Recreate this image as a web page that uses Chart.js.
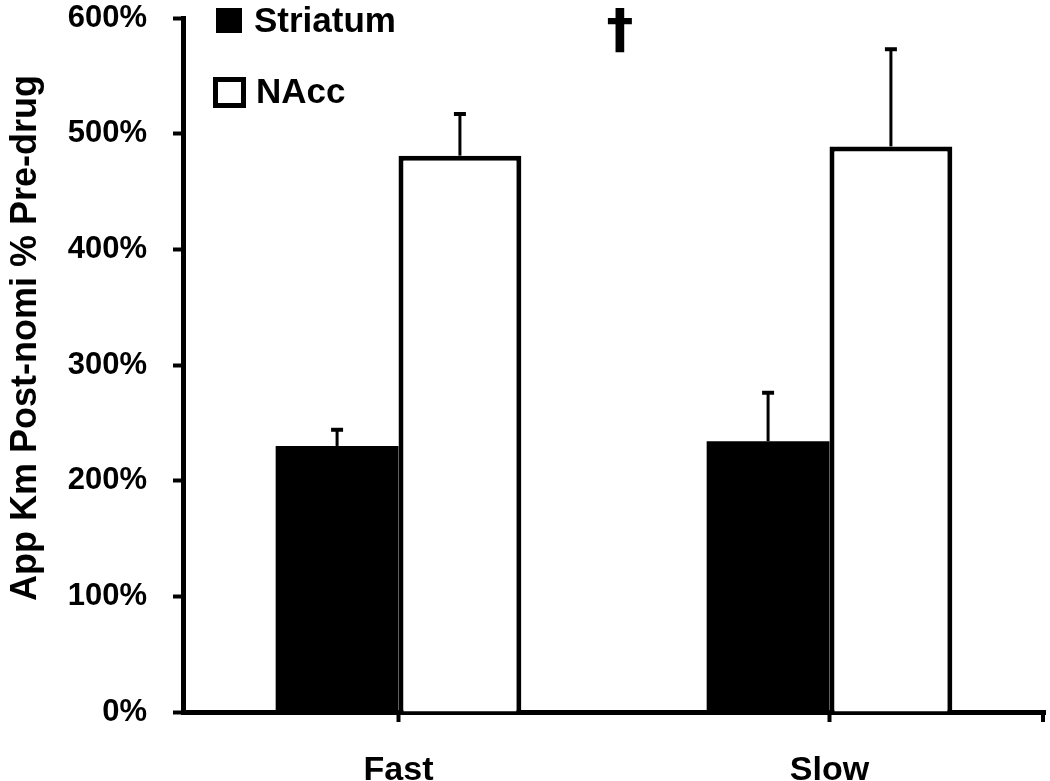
<!DOCTYPE html>
<html>
<head>
<meta charset="utf-8">
<script src="https://cdn.jsdelivr.net/npm/chart.js@4/dist/chart.umd.min.js"></script>
<style>
  html, body { margin: 0; padding: 0; background: #fff; }
  #wrap { width: 1050px; height: 781px; }
</style>
</head>
<body>
<div id="wrap"><canvas id="kmChart" width="1050" height="781"></canvas></div>
<script>
const categories = ['Fast', 'Slow'];
const seriesNames = ['Striatum', 'NAcc'];
const striatumMeans = [230, 234];
const striatumErrors = [14, 42];
const naccMeans = [481, 489];
const naccErrors = [36, 84];
const yMin = 0, yMax = 600, yStep = 100;
const yTitle = 'App Km Post-nomi % Pre-drug';
const marker = '\u2020';

Chart.defaults.font.family = '"Liberation Sans", Arial, sans-serif';
Chart.defaults.font.weight = 'bold';
Chart.defaults.color = '#000';

// up-only error bars with a small cap
const errorBars = {
    id: 'errorBars',
    afterDatasetsDraw(chart) {
        const ctx = chart.ctx;
        const y = chart.scales.y;
        ctx.save();
        ctx.strokeStyle = '#000';
        chart.data.datasets.forEach(function (ds, i) {
            const meta = chart.getDatasetMeta(i);
            meta.data.forEach(function (bar, j) {
                const top = y.getPixelForValue(ds.data[j] + ds.errors[j]);
                ctx.lineWidth = 3;
                ctx.beginPath();
                ctx.moveTo(bar.x, bar.y);
                ctx.lineTo(bar.x, top);
                ctx.stroke();
                ctx.lineWidth = 4;
                ctx.beginPath();
                ctx.moveTo(bar.x - 6, top);
                ctx.lineTo(bar.x + 6, top);
                ctx.stroke();
            });
        });
        ctx.restore();
    }
};

// legend, rotated y title, dagger and the closing x tick
const extras = {
    id: 'extras',
    afterDraw(chart) {
        const ctx = chart.ctx;
        const area = chart.chartArea;
        ctx.save();
        ctx.fillStyle = '#000';
        ctx.strokeStyle = '#000';

        // legend
        const sets = chart.data.datasets;
        ctx.font = 'bold 35px "Liberation Sans", Arial, sans-serif';
        ctx.textBaseline = 'middle';
        ctx.textAlign = 'left';
        ctx.fillRect(216, 8, 26, 25);
        ctx.fillText(sets[0].label, 254, 22);
        ctx.lineWidth = 5;
        ctx.strokeRect(215.5, 79.5, 28, 26);
        ctx.fillText(sets[1].label, 256, 93);

        // dagger
        ctx.font = 'bold 54px "DejaVu Sans", sans-serif';
        ctx.textAlign = 'center';
        ctx.fillText(marker, 620, 33);

        // y title
        ctx.font = 'bold 36px "Liberation Sans", Arial, sans-serif';
        ctx.translate(26, 338);
        ctx.rotate(-Math.PI / 2);
        ctx.fillText(yTitle, 0, 0);
        ctx.setTransform(1, 0, 0, 1, 0, 0);

        // end tick on x axis
        ctx.lineWidth = 4;
        ctx.beginPath();
        ctx.moveTo(area.right - 2, area.bottom);
        ctx.lineTo(area.right - 2, area.bottom + 10);
        ctx.stroke();
        ctx.restore();
    }
};

new Chart(document.getElementById('kmChart').getContext('2d'), {
    type: 'bar',
    data: {
        labels: categories,
        datasets: [{
            label: seriesNames[0],
            data: striatumMeans,
            errors: striatumErrors,
            backgroundColor: '#000',
            borderWidth: 0
        }, {
            label: seriesNames[1],
            data: naccMeans,
            errors: naccErrors,
            backgroundColor: '#fff',
            borderColor: '#000',
            borderWidth: 5,
            borderSkipped: 'start'
        }]
    },
    options: {
        responsive: false,
        animation: false,
        events: [],
        categoryPercentage: 0.57,
        barPercentage: 1,
        layout: { padding: { left: 0, right: 5, top: 18, bottom: 0 } },
        plugins: {
            legend: { display: false },
            tooltip: { enabled: false }
        },
        scales: {
            x: {
                afterFit: function (scale) {
                    scale.height = 69;
                    scale.paddingLeft = 0;
                    scale.paddingRight = 0;
                },
                grid: {
                    offset: false,
                    drawOnChartArea: false,
                    drawTicks: true,
                    tickLength: 10,
                    tickWidth: 4,
                    color: '#000'
                },
                border: { display: true, width: 5, color: '#000' },
                ticks: {
                    font: { size: 34, weight: 'bold' },
                    color: '#000',
                    padding: 28
                }
            },
            y: {
                min: yMin,
                max: yMax,
                afterFit: function (scale) {
                    scale.width = 183;
                    scale.paddingTop = 0;
                    scale.paddingBottom = 0;
                },
                grid: {
                    drawOnChartArea: false,
                    drawTicks: true,
                    tickLength: 10,
                    tickWidth: 4,
                    color: '#000'
                },
                border: { display: true, width: 5, color: '#000' },
                ticks: {
                    stepSize: yStep,
                    font: { size: 31, weight: 'bold' },
                    color: '#000',
                    padding: 26,
                    callback: function (v) { return v + '%'; }
                }
            }
        }
    },
    plugins: [errorBars, extras]
});
</script>
</body>
</html>
